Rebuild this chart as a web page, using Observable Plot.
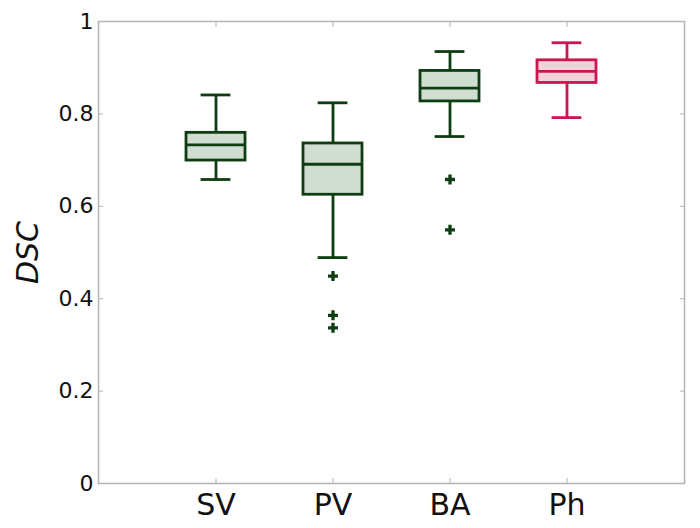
<!DOCTYPE html>
<html><head><meta charset="utf-8">
<script src="https://cdn.jsdelivr.net/npm/d3@7"></script>
<script src="https://cdn.jsdelivr.net/npm/@observablehq/plot@0.6"></script>
<style>body{margin:0;background:#fff}</style>
</head><body><div id="chart"></div>
<script>
const categories = ["SV", "PV", "BA", "Ph"];
const lowerWhisker = [0.658, 0.489, 0.751, 0.792];
const q1 = [0.699, 0.625, 0.827, 0.867];
const median = [0.733, 0.691, 0.856, 0.892];
const q3 = [0.759, 0.736, 0.893, 0.916];
const upperWhisker = [0.841, 0.824, 0.935, 0.954];
const outlierCategory = ["PV", "PV", "PV", "BA", "BA"];
const outlierValue = [0.449, 0.364, 0.337, 0.658, 0.549];
const yTicks = [0, 0.2, 0.4, 0.6, 0.8, 1];

const strokeOf = {SV: "#0f3d12", PV: "#0f3d12", BA: "#0f3d12", Ph: "#cc1650"};
const fillOf = {SV: "#d2ddd2", PV: "#d2ddd2", BA: "#d2ddd2", Ph: "#f7d0dc"};

const boxes = categories.map((c, i) => ({
  cat: c, lw: lowerWhisker[i], q1: q1[i], med: median[i], q3: q3[i], uw: upperWhisker[i]
}));
const outliers = outlierCategory.map((c, i) => ({cat: c, v: outlierValue[i]}));

const sw = 2.8;
const capInset = 14.6;
const frameColor = "#b3b3b3";

const plot = Plot.plot({
  width: 700,
  height: 528,
  marginLeft: 98,
  marginRight: 16,
  marginTop: 21,
  marginBottom: 45,
  style: {fontFamily: "DejaVu Sans", background: "#fff", color: "#111"},
  x: {type: "band", domain: categories, paddingInner: 0.5, paddingOuter: 0.75, align: 0.5},
  y: {domain: [0, 1]},
  marks: [
    Plot.ruleX(boxes, {x: "cat", y1: "lw", y2: "q1", stroke: d => strokeOf[d.cat], strokeWidth: sw}),
    Plot.ruleX(boxes, {x: "cat", y1: "q3", y2: "uw", stroke: d => strokeOf[d.cat], strokeWidth: sw}),
    Plot.tickY(boxes, {x: "cat", y: "lw", stroke: d => strokeOf[d.cat], strokeWidth: sw, insetLeft: capInset, insetRight: capInset}),
    Plot.tickY(boxes, {x: "cat", y: "uw", stroke: d => strokeOf[d.cat], strokeWidth: sw, insetLeft: capInset, insetRight: capInset}),
    Plot.barY(boxes, {x: "cat", y1: "q1", y2: "q3", fill: d => fillOf[d.cat], stroke: d => strokeOf[d.cat], strokeWidth: sw}),
    Plot.tickY(boxes, {x: "cat", y: "med", stroke: d => strokeOf[d.cat], strokeWidth: sw}),
    Plot.dot(outliers, {x: "cat", y: "v", symbol: d3.symbolCross, r: 4.2, fill: d => strokeOf[d.cat], stroke: null}),
    Plot.frame({stroke: frameColor, strokeWidth: 1.5}),
    Plot.axisY({anchor: "left", ticks: yTicks, tickFormat: d => String(d), tickSize: -5, tickPadding: 10, fontSize: 22, stroke: frameColor,
      label: "DSC", labelAnchor: "center", labelOffset: 82, labelArrow: "none"}),
    Plot.axisY({anchor: "right", ticks: yTicks, tickFormat: () => "", tickSize: -5, stroke: frameColor, label: null}),
    Plot.axisX({anchor: "bottom", tickSize: -5, tickPadding: 15, fontSize: 30, stroke: frameColor, label: null}),
    Plot.axisX({anchor: "top", tickSize: -5, tickFormat: () => "", stroke: frameColor, label: null})
  ]
});
document.getElementById("chart").appendChild(plot);
d3.select(plot).selectAll('[aria-label="y-axis label"] text')
  .style("font-style", "italic").style("font-size", "30px");
</script>
</body></html>
